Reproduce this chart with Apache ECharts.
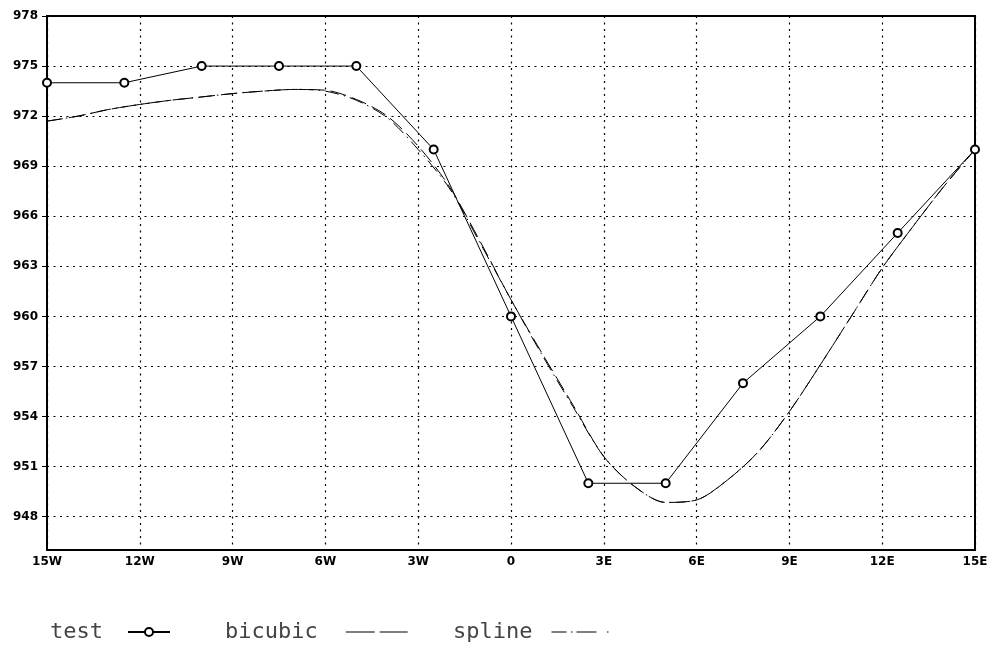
<!DOCTYPE html>
<html>
<head>
<meta charset="utf-8">
<script src="https://cdn.jsdelivr.net/npm/echarts@6/dist/echarts.min.js"></script>
<style>
  html, body { margin: 0; padding: 0; background: #fff; }
  #chart { width: 992px; height: 646px; }
</style>
</head>
<body>
<div id="chart"></div>
<script>
// station points (longitude, degrees; negative = W)
const testLon = [-15, -12.5, -10, -7.5, -5, -2.5, 0, 2.5, 5, 7.5, 10, 12.5, 15];
const testVal = [974, 974, 975, 975, 975, 970, 960, 950, 950, 956, 960, 965, 970];

// interpolated curves at 1 degree steps
const curveLon = [-15, -14, -13, -12, -11, -10, -9, -8, -7, -6, -5, -4, -3, -2, -1,
  0, 1, 2, 3, 4, 5, 6, 7, 8, 9, 10, 11, 12, 13, 14, 15];
const bicubicVal = [971.7, 972.0, 972.4, 972.7, 972.95, 973.15, 973.35, 973.5, 973.6, 973.55, 973.0,
  972.0, 970.2, 967.8, 964.5, 961.0, 957.8, 954.7, 951.6, 949.8, 948.85, 949.0, 950.2, 951.9,
  954.3, 957.1, 960.0, 962.9, 965.4, 967.8, 970.0];
const splineVal = [971.7, 972.0, 972.4, 972.7, 972.95, 973.15, 973.35, 973.5, 973.6, 973.5, 972.95,
  971.9, 970.0, 967.7, 964.4, 961.0, 957.7, 954.6, 951.6, 949.8, 948.85, 949.0, 950.2, 951.9,
  954.3, 957.1, 960.0, 962.9, 965.4, 967.8, 970.0];

const yTicks = [948, 951, 954, 957, 960, 963, 966, 969, 972, 975, 978];

function zip(xs, ys) {
  return xs.map((x, i) => [x, ys[i]]);
}

function lonLabel(v) {
  if (v < 0) return (-v) + 'W';
  if (v > 0) return v + 'E';
  return '0';
}

const chart = echarts.init(document.getElementById('chart'));

const axisText = {
  color: '#000',
  fontFamily: 'DejaVu Sans',
  fontWeight: 'bold',
  fontSize: 12
};
const dotted = {
  show: true,
  lineStyle: { color: '#000', width: 1.2, type: [2, 4.5] }
};

// one legend per entry so each can sit where the original puts it
function legendAt(name, left, width, gap, icon) {
  const item = { name: name };
  if (icon) item.icon = icon;
  return {
    left: left,
    top: 621,
    padding: 0,
    align: 'right',
    itemWidth: width,
    itemHeight: 10,
    textStyle: {
      color: '#444',
      fontFamily: 'DejaVu Sans Mono',
      fontSize: 22,
      padding: [0, gap, 0, 0]
    },
    data: [item]
  };
}

const option = {
  animation: false,
  grid: {
    left: 47, right: 17, top: 16, bottom: 96,
    show: true,
    borderColor: '#000',
    borderWidth: 2
  },
  legend: [
    legendAt('test', 50, 42, 20),
    legendAt('bicubic', 225, 62, 23, 'path://M0,0h29v1h-29z M34,0h28v1h-28z'),
    legendAt('spline', 453, 57, 14, 'path://M0,0h15v1h-15z M19.5,0h1.5v1h-1.5z M25,0h20v1h-20z M55.5,0h1.5v1h-1.5z')
  ],
  xAxis: {
    type: 'value',
    min: -15,
    max: 15,
    interval: 3,
    axisLine: { lineStyle: { color: '#000', width: 2 } },
    axisTick: { show: false },
    axisLabel: Object.assign({ margin: 6, formatter: lonLabel }, axisText),
    splitLine: dotted
  },
  yAxis: {
    type: 'value',
    min: 946,
    max: 978,
    axisLine: { show: true, onZero: false, lineStyle: { color: '#000', width: 2 } },
    axisTick: { show: true, inside: false, length: 5, customValues: yTicks, lineStyle: { color: '#000' } },
    axisLabel: Object.assign({ margin: 9, customValues: yTicks }, axisText),
    splitLine: dotted
  },
  series: [
    {
      name: 'test',
      type: 'line',
      data: zip(testLon, testVal),
      symbol: 'emptyCircle',
      symbolSize: 8,
      itemStyle: { color: '#000', borderWidth: 1 },
      lineStyle: { color: '#000', width: 1 }
    },
    {
      name: 'bicubic',
      type: 'line',
      data: zip(curveLon, bicubicVal),
      smooth: 0.3,
      showSymbol: false,
      symbol: 'none',
      itemStyle: { color: '#000' },
      lineStyle: { color: '#000', width: 1, type: [16, 6] }
    },
    {
      name: 'spline',
      type: 'line',
      data: zip(curveLon, splineVal),
      smooth: 0.3,
      showSymbol: false,
      symbol: 'none',
      itemStyle: { color: '#000' },
      lineStyle: { color: '#000', width: 1, type: [14, 5, 1.5, 5] }
    }
  ]
};

chart.setOption(option);
</script>
</body>
</html>
